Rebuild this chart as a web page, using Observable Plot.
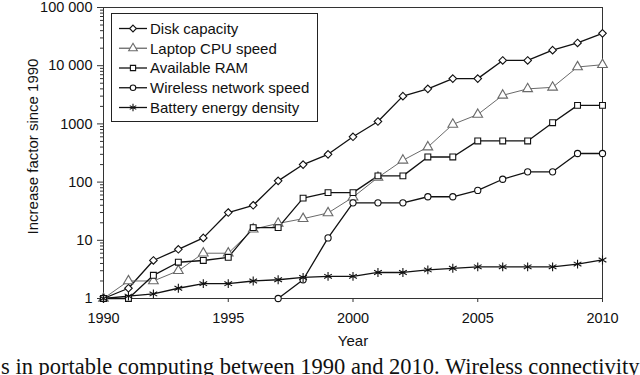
<!DOCTYPE html>
<html><head><meta charset="utf-8">
<script src="https://cdn.jsdelivr.net/npm/d3@7"></script>
<script src="https://cdn.jsdelivr.net/npm/@observablehq/plot@0.6"></script>
<style>
body{margin:0;background:#fff;}
#wrap{position:relative;width:640px;height:375px;overflow:hidden;background:#fff;}
#caption{position:absolute;left:1px;top:356px;font-family:"Liberation Serif","Times New Roman",serif;font-size:22.5px;line-height:22.5px;white-space:nowrap;color:#111;}
#legend{position:absolute;left:111px;top:13px;width:207px;height:109px;border:1px solid #222;box-sizing:border-box;background:#fff;}
#legend svg{display:block;}
</style></head>
<body><div id="wrap"><div id="chart"></div><div id="legend"></div>
<div id="caption">s in portable computing between 1990 and 2010. Wireless connectivity</div></div>
<script>
// ---- data ----
const years = [1990,1991,1992,1993,1994,1995,1996,1997,1998,1999,2000,2001,2002,2003,2004,2005,2006,2007,2008,2009,2010];
const wirelessYears = [1997,1998,1999,2000,2001,2002,2003,2004,2005,2006,2007,2008,2009,2010];
const seriesNames = ["Disk capacity","Laptop CPU speed","Available RAM","Wireless network speed","Battery energy density"];
const disk = [1,1.5,4.5,7,11,30,40,105,200,300,600,1100,3000,4000,6000,6000,12300,12300,18500,24600,36000];
const cpu = [1,2,2,3,6,6,15.5,19.5,23.5,29.5,55,120,237,400,980,1450,3100,4000,4250,9500,10400];
const ram = [1,1,2.5,4.2,4.5,5.1,16.5,16.5,53,66,66,128,128,270,270,510,510,510,1050,2080,2080];
const wireless = [1,2.1,11,44,44,44,56,56,72,112,150,150,310,310];
const battery = [1,1.1,1.2,1.5,1.8,1.8,2.0,2.1,2.3,2.4,2.4,2.8,2.8,3.1,3.3,3.5,3.5,3.5,3.5,3.9,4.6];
const yTickValues = [1,10,100,1000,10000,100000];
const yTickLabels = ["1","10","100","1000","10 000","100 000"];
const xTickValues = [1990,1995,2000,2005,2010];
const xLabel = "Year";
const yLabel = "Increase factor since 1990";

// ---- build table ----
const rows = [];
function add(name, xs, vs){ xs.forEach((x,i)=>rows.push({series:name, year:x, value:vs[i]})); }
add(seriesNames[0], years, disk);
add(seriesNames[1], years, cpu);
add(seriesNames[2], years, ram);
add(seriesNames[3], wirelessYears, wireless);
add(seriesNames[4], years, battery);

const styles = {
  "Disk capacity": {symbol:"diamond2", stroke:"#111", r:3.4},
  "Laptop CPU speed": {symbol:"triangle", stroke:"#6a6a6a", r:3.6},
  "Available RAM": {symbol:"square", stroke:"#111", r:3.3},
  "Wireless network speed": {symbol:"circle", stroke:"#111", r:3.1},
  "Battery energy density": {symbol:"asterisk", stroke:"#111", r:4.2}
};

const yMinor = [];
for (const base of [1,10,100,1000,10000]) for (const m of [2,3,4,5,6,7,8,9]) yMinor.push(base*m);
const labelMap = new Map(yTickValues.map((v,i)=>[v, yTickLabels[i]]));

const marks = [
  Plot.axisY(yMinor, {tickSize:3, tickFormat:()=>"", label:null, stroke:"#333"}),
  Plot.axisY(yTickValues, {tickSize:6, tickPadding:5, tickFormat:d=>labelMap.get(d), label:null, fontSize:14.5, stroke:"#333"}),
  Plot.axisX(xTickValues, {tickSize:4, tickPadding:10, tickFormat:"d", label:null, fontSize:14.5, stroke:"#333"}),
  Plot.frame({stroke:"#333", strokeWidth:1})
];
for (const name of seriesNames) {
  const s = styles[name];
  marks.push(Plot.line(rows, {filter:d=>d.series===name, x:"year", y:"value", stroke:s.stroke, strokeWidth: name==="Laptop CPU speed"?1:1.3}));
}
for (const name of seriesNames) {
  const s = styles[name];
  marks.push(Plot.dot(rows, {filter:d=>d.series===name, x:"year", y:"value", symbol:()=>s.symbol, r:s.r, stroke:s.stroke, fill:"white", strokeWidth:1.1}));
}
marks.push(Plot.text([yLabel], {text:d=>d, frameAnchor:"left", dx:-70.5, dy:-6.5, rotate:-90, fontSize:15, lineAnchor:"middle", textAnchor:"middle", fill:"#111"}));
marks.push(Plot.text([xLabel], {text:d=>d, frameAnchor:"bottom", dy:42.5, fontSize:15, lineAnchor:"middle", fill:"#111"}));

const chart = Plot.plot({
  width:640, height:352,
  marginLeft:103, marginRight:38, marginTop:7, marginBottom:54,
  style:{fontFamily:"'Liberation Sans', Arial, Helvetica, sans-serif", fontSize:"14.5px", color:"#111", background:"#fff", overflow:"visible"},
  x:{domain:[1990,2010]},
  y:{type:"log", domain:[1,100000]},
  symbol:{type:"identity"},
  marks
});
document.getElementById("chart").appendChild(chart);

// ---- legend ----
const symMap = {diamond2:d3.symbolDiamond2, triangle:d3.symbolTriangle, square:d3.symbolSquare, circle:d3.symbolCircle,
  asterisk:{draw(ctx,size){const rx=Math.sqrt(size/Math.PI), ry=rx*Math.sqrt(3)/2; ctx.moveTo(0,rx);ctx.lineTo(0,-rx);ctx.moveTo(-ry,-rx/2);ctx.lineTo(ry,rx/2);ctx.moveTo(-ry,rx/2);ctx.lineTo(ry,-rx/2);}}};
const lg = d3.select("#legend").append("svg").attr("width",205).attr("height",107);
seriesNames.forEach((name,i)=>{
  const s = styles[name];
  const y = 14.5 + i*19.75;
  const g = lg.append("g").attr("transform",`translate(0,${y})`);
  g.append("line").attr("x1",7).attr("x2",35).attr("stroke",s.stroke).attr("stroke-width",1.3);
  g.append("path").attr("transform","translate(21,0)").attr("d", d3.symbol(symMap[s.symbol], Math.PI*s.r*s.r*0.8)()).attr("fill","white").attr("stroke",s.stroke).attr("stroke-width",1.1);
  g.append("text").attr("x",38).attr("dy","0.35em").attr("font-family","'Liberation Sans', Arial, sans-serif").attr("font-size",15).attr("fill","#111").text(name);
});
</script>
</body></html>
